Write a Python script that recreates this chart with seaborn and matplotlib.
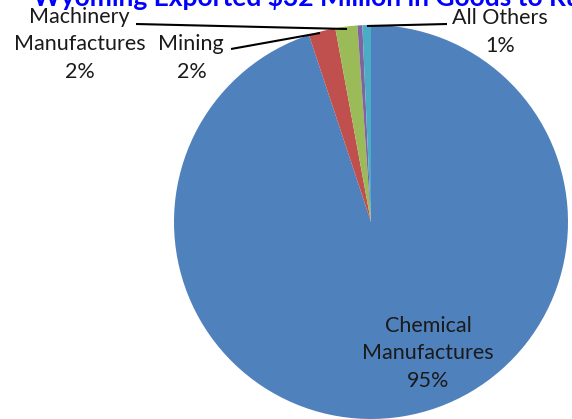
import matplotlib
matplotlib.use("Agg")
import matplotlib.pyplot as plt
import seaborn as sns

sns.set_theme(style="white")
plt.rcParams['font.family'] = ['Lato', 'DejaVu Sans']

title = "Wyoming Exported $32 Million in Goods to Russia"
categories = ["Chemical Manufactures", "Mining", "Machinery Manufactures", "Other", "All Others"]
values = [94.9, 2.2, 1.8, 0.4, 0.7]
pct_labels = ["95%", "2%", "2%", "", "1%"]
colors = ["#4F81BD", "#C0504D", "#9BBB59", "#8064A2", "#4BACC6"]

W, H = 572, 419
fig = plt.figure(figsize=(W / 100, H / 100), dpi=100)
ax = fig.add_axes([0, 0, 1, 1])

def Y(y):
    return H - y

cx, cy, r = 371, 222, 197
ax.pie(values, colors=colors, startangle=90, counterclock=False,
       center=(cx, Y(cy)), radius=r, frame=True,
       wedgeprops=dict(linewidth=0, antialiased=True))
ax.set_xlim(0, W)
ax.set_ylim(0, H)
ax.set_aspect('auto')
ax.set_axis_off()

fs = 15.5
tc = "#1a1a1a"
# Chemical
ax.text(428, Y(332), "Chemical", ha='center', va='baseline', fontsize=fs, color=tc)
ax.text(428, Y(359), "Manufactures", ha='center', va='baseline', fontsize=fs, color=tc)
ax.text(428, Y(387), pct_labels[0], ha='center', va='baseline', fontsize=fs, color=tc)
# Machinery
ax.text(79, Y(23), "Machinery", ha='center', va='baseline', fontsize=fs, color=tc)
ax.text(80, Y(50), "Manufactures", ha='center', va='baseline', fontsize=fs, color=tc)
ax.text(80, Y(78), pct_labels[2], ha='center', va='baseline', fontsize=fs, color=tc)
# Mining
ax.text(191, Y(50), "Mining", ha='center', va='baseline', fontsize=fs, color=tc)
ax.text(192, Y(78), pct_labels[1], ha='center', va='baseline', fontsize=fs, color=tc)
# All Others
ax.text(500, Y(24), "All Others", ha='center', va='baseline', fontsize=fs, color=tc)
ax.text(500, Y(52), pct_labels[4], ha='center', va='baseline', fontsize=fs, color=tc)

# leader lines
ax.plot([136, 347], [Y(24), Y(29)], color='black', lw=1.5, solid_capstyle='butt')
ax.plot([231, 320], [Y(49), Y(33)], color='black', lw=1.5, solid_capstyle='butt')
ax.plot([367, 447], [Y(26), Y(24)], color='black', lw=1.5, solid_capstyle='butt')

# title (clipped at the top)
ax.text(33, Y(6), title, ha='left', va='baseline', fontsize=19, fontweight='bold',
        color='#0000FF', clip_on=False)

fig.savefig("out.png", dpi=100)
